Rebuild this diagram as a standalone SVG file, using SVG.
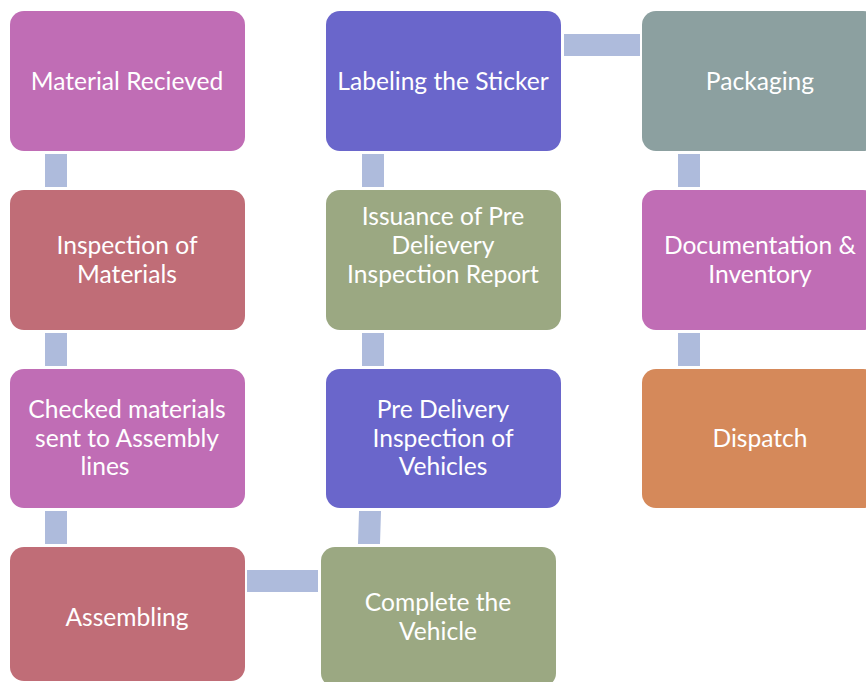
<svg xmlns="http://www.w3.org/2000/svg" width="866" height="682" viewBox="0 0 866 682">
<style>
.n rect{stroke:none}
.pink{fill:#C06DB5}
.red{fill:#C06D77}
.blue{fill:#6A66CB}
.green{fill:#9BA882}
.gray{fill:#8CA0A0}
.orange{fill:#D5895A}
.c{fill:#AEBBDC}
text{font-family:"Lato","Open Sans","Liberation Sans",sans-serif;font-size:24.6px;fill:#FFFFFF;text-anchor:middle}
</style>
<rect width="866" height="682" fill="#FFFFFF"/>
<g id="connectors">
<rect class="c" x="45" y="154" width="22" height="33"/>
<rect class="c" x="45" y="333" width="22" height="33"/>
<rect class="c" x="45" y="511" width="22" height="33"/>
<rect class="c" x="247" y="570" width="71" height="22"/>
<polygon class="c" points="359,511 381,511 380,544 358,544"/>
<rect class="c" x="362" y="333" width="22" height="33"/>
<rect class="c" x="362" y="154" width="22" height="33"/>
<rect class="c" x="564" y="34" width="76" height="22"/>
<rect class="c" x="678" y="154" width="22" height="33"/>
<rect class="c" x="678" y="333" width="22" height="33"/>
</g>
<g id="n1" class="n"><rect class="pink" x="10" y="11" width="235" height="140" rx="14"/><text x="127" y="90">Material Recieved</text></g>
<g id="n2" class="n"><rect class="red" x="10" y="190" width="235" height="140" rx="14"/><text x="127" y="254">Inspection of</text><text x="127" y="283">Materials</text></g>
<g id="n3" class="n"><rect class="pink" x="10" y="369" width="235" height="139" rx="14"/><text x="127" y="418">Checked materials</text><text x="127" y="447">sent to Assembly</text><text x="105" y="475">lines</text></g>
<g id="n4" class="n"><rect class="red" x="10" y="547" width="235" height="134" rx="14"/><text x="127" y="626">Assembling</text></g>
<g id="n5" class="n"><rect class="green" x="321" y="547" width="235" height="140" rx="14"/><text x="438" y="611">Complete the</text><text x="438" y="640">Vehicle</text></g>
<g id="n6" class="n"><rect class="blue" x="326" y="369" width="235" height="139" rx="14"/><text x="443" y="418">Pre Delivery</text><text x="443" y="447">Inspection of</text><text x="443" y="475">Vehicles</text></g>
<g id="n7" class="n"><rect class="green" x="326" y="190" width="235" height="140" rx="14"/><text x="443" y="225">Issuance of Pre</text><text x="443" y="254">Delievery</text><text x="443" y="283">Inspection Report</text></g>
<g id="n8" class="n"><rect class="blue" x="326" y="11" width="235" height="140" rx="14"/><text x="443" y="90">Labeling the Sticker</text></g>
<g id="n9" class="n"><rect class="gray" x="642" y="11" width="235" height="140" rx="14"/><text x="760" y="90">Packaging</text></g>
<g id="n10" class="n"><rect class="pink" x="642" y="190" width="235" height="140" rx="14"/><text x="760" y="254">Documentation &amp;</text><text x="760" y="283">Inventory</text></g>
<g id="n11" class="n"><rect class="orange" x="642" y="369" width="235" height="139" rx="14"/><text x="760" y="447">Dispatch</text></g>
</svg>
